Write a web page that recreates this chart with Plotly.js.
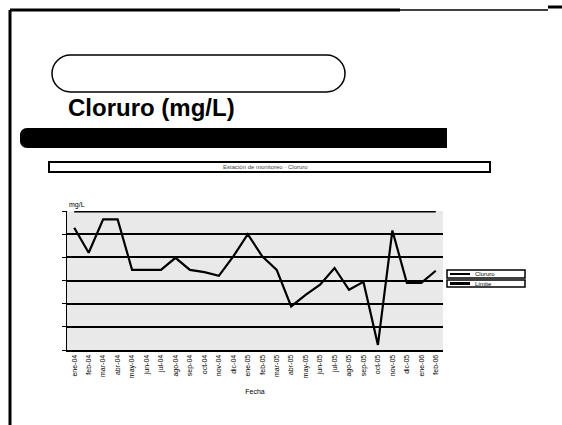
<!DOCTYPE html>
<html>
<head>
<meta charset="utf-8">
<script src="https://cdn.plot.ly/plotly-3.0.1.min.js"></script>
<style>html,body{margin:0;padding:0;background:#fff;}#chart{width:562px;height:425px;}</style>
</head>
<body>
<div id="chart"></div>
<script>
// ---- data ----
const fechas = ["ene-04","feb-04","mar-04","abr-04","may-04","jun-04","jul-04","ago-04","sep-04","oct-04","nov-04","dic-04",
                "ene-05","feb-05","mar-05","abr-05","may-05","jun-05","jul-05","ago-05","sep-05","oct-05","nov-05","dic-05",
                "ene-06","feb-06"];
const cloruro = [264, 210, 282, 282, 173, 173, 173, 199, 173, 168, 160, 202,
                 250, 202, 173, 94, 119, 141, 177, 130, 147, 11, 258, 145,
                 145, 171];
const limite = fechas.map(() => 300);
const yTicks = [0, 50, 100, 150, 200, 250, 300];
const serieNombres = ["Cloruro", "Límite"];

// ---- pixel helpers for decorations ----
const L = 67, R = 443, T = 211, B = 350;
const px = x => (x - L) / (R - L);
const py = y => (B - y) / (B - T);
const P = (x, y) => px(x).toFixed(5) + ',' + py(y).toFixed(5);

function pill(x0, y0, x1, y1) {
  const r = (y1 - y0) / 2, cy = (y0 + y1) / 2, k = 0.5523 * r;
  return 'M' + P(x0 + r, y0) + ' L' + P(x1 - r, y0) +
    ' C' + P(x1 - r + k, y0) + ' ' + P(x1, cy - k) + ' ' + P(x1, cy) +
    ' C' + P(x1, cy + k) + ' ' + P(x1 - r + k, y1) + ' ' + P(x1 - r, y1) +
    ' L' + P(x0 + r, y1) +
    ' C' + P(x0 + r - k, y1) + ' ' + P(x0, cy + k) + ' ' + P(x0, cy) +
    ' C' + P(x0, cy - k) + ' ' + P(x0 + r - k, y0) + ' ' + P(x0 + r, y0) + ' Z';
}
function leftRounded(x0, y0, x1, y1, r) {
  const k = 0.5523 * r;
  return 'M' + P(x0 + r, y0) + ' L' + P(x1, y0) + ' L' + P(x1, y1) + ' L' + P(x0 + r, y1) +
    ' C' + P(x0 + r - k, y1) + ' ' + P(x0, y1 - r + k) + ' ' + P(x0, y1 - r) +
    ' L' + P(x0, y0 + r) +
    ' C' + P(x0, y0 + r - k) + ' ' + P(x0 + r - k, y0) + ' ' + P(x0 + r, y0) + ' Z';
}
const line = (x0, y0, x1, y1, w) => ({type: 'line', xref: 'paper', yref: 'paper',
  x0: px(x0), y0: py(y0), x1: px(x1), y1: py(y1), line: {color: '#000', width: w}});
const rect = (x0, y0, x1, y1, w, fill) => ({type: 'rect', xref: 'paper', yref: 'paper',
  x0: px(x0), y0: py(y0), x1: px(x1), y1: py(y1), line: {color: '#000', width: w}, fillcolor: fill});
const txt = (s, x, y, size, xa, col) => ({text: s, xref: 'paper', yref: 'paper', x: px(x), y: py(y),
  showarrow: false, font: {size: size, color: col || '#000'}, xanchor: xa || 'left', yanchor: 'middle'});

const traces = [
  {x: fechas, y: cloruro, type: 'scatter', mode: 'lines', name: serieNombres[0],
   line: {color: '#000', width: 2.2}, showlegend: false},
  {x: fechas, y: limite, type: 'scatter', mode: 'lines', name: serieNombres[1],
   line: {color: '#000', width: 3}, showlegend: false}
];

const layout = {
  width: 562, height: 425,
  margin: {l: L, r: 562 - R, t: T, b: 425 - B},
  paper_bgcolor: '#fff',
  plot_bgcolor: '#e9e9e9',
  font: {family: 'Liberation Sans, Arial, sans-serif', color: '#000'},
  title: {text: 'Cloruro (mg/L)', font: {size: 24, family: 'Liberation Sans, Arial, sans-serif', weight: 'bold', color: '#000'},
          xref: 'container', yref: 'container', x: 68 / 562, xanchor: 'left', y: 1 - 108 / 425, yanchor: 'middle'},
  showlegend: false,
  xaxis: {type: 'category', range: [-0.5, fechas.length - 0.5], tickangle: -90,
          tickfont: {size: 7, color: '#000'}, showgrid: false,
          showline: true, linecolor: '#000', linewidth: 2, ticks: '',
          title: {text: 'Fecha', font: {size: 7, color: '#000'}, standoff: 12}},
  yaxis: {range: [0, 300], tickvals: yTicks, showticklabels: false, ticks: 'outside', ticklen: 4,
          tickcolor: '#000', showgrid: true, gridcolor: '#000', gridwidth: 2,
          showline: true, linecolor: '#000', linewidth: 1.5, zeroline: false},
  shapes: [
    line(10, 10, 10, 425, 3),
    line(10, 10, 400, 10, 3),
    line(400, 10, 548, 10, 1.5),
    line(548, 7, 562, 7, 3),
    {type: 'path', xref: 'paper', yref: 'paper', path: pill(52, 55, 345, 92), line: {color: '#000', width: 1.5}, fillcolor: 'rgba(0,0,0,0)'},
    {type: 'path', xref: 'paper', yref: 'paper', path: leftRounded(20, 128, 447, 148, 7), line: {color: '#000', width: 0}, fillcolor: '#000'},
    rect(49, 162, 490, 172, 2, '#fff'),
    // custom compact legend
    rect(447, 270, 525, 278, 1.5, '#fff'),
    rect(447, 280, 525, 287, 1.5, '#fff'),
    line(450, 274, 470, 274, 2),
    line(450, 283.5, 470, 283.5, 3)
  ],
  annotations: [
    txt('Estación de monitoreo · Cloruro', 265, 167, 6, 'center', '#444'),
    txt('mg/L', 67, 205, 7),
    txt(serieNombres[0], 473, 274, 6),
    txt(serieNombres[1], 473, 283.5, 6)
  ]
};

Plotly.newPlot('chart', traces, layout, {displayModeBar: false, staticPlot: true});
</script>
</body>
</html>
